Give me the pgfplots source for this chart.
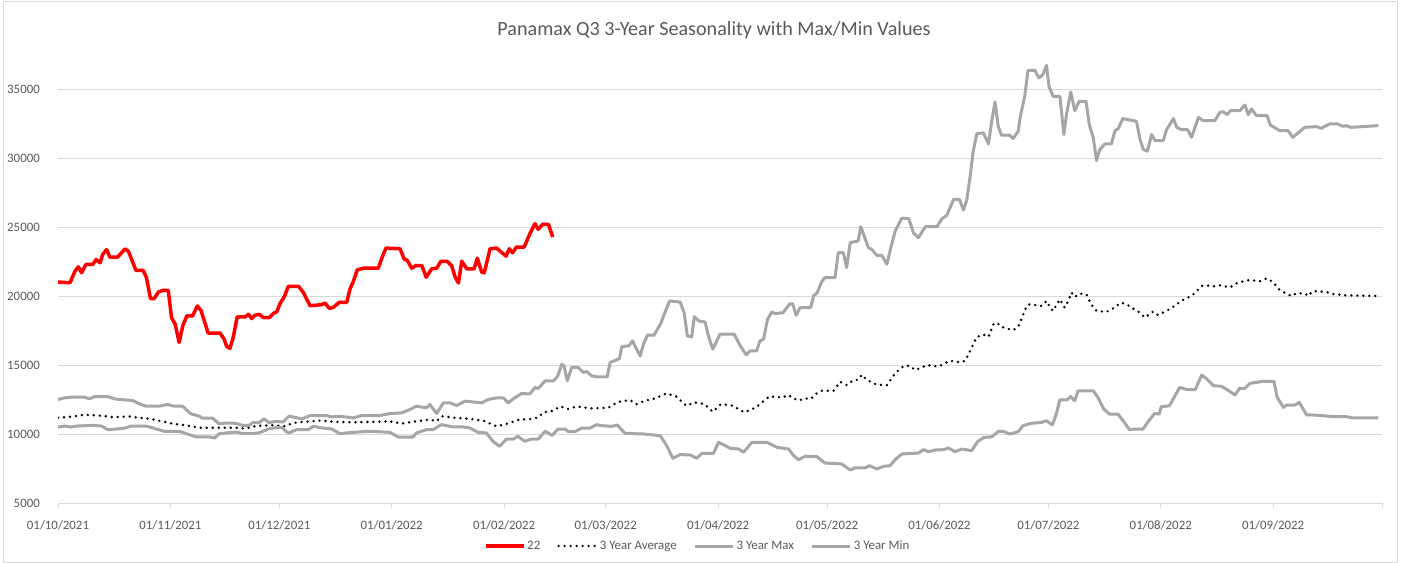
\documentclass[border=0pt]{standalone}
\usepackage{fontspec}
\setmainfont{Carlito}
\usepackage{pgfplots}
\pgfplotsset{compat=1.18}
\definecolor{txt}{HTML}{595959}
\definecolor{gridc}{HTML}{D9D9D9}
\definecolor{grayline}{RGB}{166,166,166}
\definecolor{redline}{HTML}{FF0000}
\begin{document}
\begin{tikzpicture}
\useasboundingbox (0,0) rectangle (1404bp,563bp);
\draw[gridc, line width=0.75bp] (3.5bp,1bp) rectangle (1397.5bp,562bp);
\node[text=txt, font=\fontsize{20.2}{24}\selectfont] at (714bp,533bp) {Panamax Q3 3-Year Seasonality with Max/Min Values};
\begin{axis}[
  at={(58bp,60bp)}, anchor=south west,
  scale only axis, width=1324bp, height=448.5bp,
  xmin=0, xmax=365, ymin=5000, ymax=37500,
  scaled y ticks=false, scaled x ticks=false,
  axis x line*=bottom, axis y line*=left,
  y axis line style={draw=none},
  x axis line style={draw=gridc, line width=0.75bp},
  xtick={0,31,61,92,123,151,182,212,243,273,304,335,365},
  xticklabels={01/10/2021,01/11/2021,01/12/2021,01/01/2022,01/02/2022,01/03/2022,01/04/2022,01/05/2022,01/06/2022,01/07/2022,01/08/2022,01/09/2022,},
  ytick={5000,10000,15000,20000,25000,30000,35000},
  yticklabels={5000,10000,15000,20000,25000,30000,35000},
  tick align=outside, major tick length=5bp,
  xtick style={draw=gridc, line width=0.75bp},
  ytick style={draw=none},
  ymajorgrids, grid style={draw=gridc, line width=0.75bp},
  ticklabel style={text=txt, font=\fontsize{12.9}{15}\selectfont, inner sep=0pt},
  yticklabel style={anchor=east, xshift=-13bp},
  xticklabel style={anchor=north, yshift=-12bp},
  legend columns=4,
  legend style={draw=none, fill=none, at={(0.483,-0.0959)}, anchor=center,
    font=\fontsize{12.9}{15}\selectfont, text=txt,
    /tikz/every even column/.append style={column sep=15bp}},
  legend image code/.code={\draw[#1] (0bp,0bp) -- (38bp,0bp);},
  every axis plot/.append style={line join=round},
]
\addplot[redline, line width=3.5bp] coordinates {
(0,21010) (3.3,20960) (4.7,21800) (5.6,22115) (6.5,21683) (7.7,22284) (9.6,22284) (10.5,22644) (11.6,22404) (12.3,23005) (13.4,23365) (14.3,22812) (16.4,22812) (18.5,23413) (19.4,23245) (21.5,21851) (23.5,21851) (24.4,21322) (25.5,19807) (26.5,19807) (27.7,20288) (28.9,20408) (30.4,20408) (31.3,18437) (32.3,17956) (33.4,16634) (34.4,17836) (35.5,18557) (37.1,18557) (38.4,19278) (39.4,18966) (41.4,17307) (44.7,17307) (45.8,16874) (46.5,16345) (47.4,16201) (48.3,16995) (49.4,18485) (51.6,18485) (52.5,18677) (53.4,18365) (54.3,18605) (55.5,18677) (56.6,18437) (58.3,18437) (59.4,18750) (60.3,18850) (61.3,19500) (62.4,19950) (63.5,20700) (66.3,20704) (67.6,20267) (69.5,19296) (72.7,19369) (73.6,19490) (74.8,19102) (75.9,19175) (77.5,19539) (79.6,19539) (80.5,20510) (81.4,21044) (82.5,21893) (84.2,22015) (88.3,22015) (89.2,22694) (90.4,23471) (94.3,23422) (95.4,22694) (96.3,22573) (97.5,22015) (98.7,22209) (100.3,22209) (101.5,21359) (103,21966) (104.4,22015) (105.5,22500) (107.3,22500) (108.5,22209) (109.5,21359) (110.4,20947) (111.3,22524) (112.7,21966) (114.7,21966) (115.6,22743) (116.8,21723) (117.5,21675) (119.1,23422) (120.9,23471) (123.5,22888) (124.4,23422) (125.3,23131) (126.4,23544) (128.5,23544) (130.3,24636) (131.5,25243) (132.4,24830) (133.6,25194) (135.2,25194) (136.4,24272)
};
\addlegendentry{22}
\addplot[black, line width=2.7bp, line cap=round, dash pattern=on 0bp off 6bp] coordinates {
(0,11177) (4.2,11273) (7.3,11393) (11,11345) (15.1,11225) (19.7,11273) (22.4,11177) (25.2,11105) (28.4,10937) (31.6,10744) (35.3,10624) (38.9,10456) (42.6,10456) (46,10456) (49.8,10456) (51.6,10384) (54.4,10576) (59,10640) (62.5,10559) (64.8,10802) (67.6,10875) (72.2,10972) (76.8,10875) (81.4,10850) (86.9,10875) (91.5,10923) (94.7,10754) (98.8,10923) (102.5,11044) (104.4,10923) (105.7,11287) (109.9,11166) (113.5,11093) (117.2,10972) (120.9,10559) (123.6,10729) (127.3,11044) (130.5,11090) (132.4,11205) (133.8,11566) (136.6,11687) (138.4,12000) (140.7,11807) (143,12000) (146.7,11855) (151.7,11904) (154.5,12337) (157.7,12458) (159.5,12169) (161.8,12410) (164.6,12578) (167.7,12940) (170.4,12723) (173.2,12048) (175.5,12289) (178.2,12169) (180.5,11614) (182.8,12169) (186,12048) (189.2,11566) (192.4,11928) (196.1,12723) (199.8,12651) (201.3,12830) (202.8,12578) (204.3,12430) (206,12578) (207.5,12530) (208.8,12892) (210.6,13134) (213.8,13134) (215.6,13785) (217.4,13544) (219.3,13906) (220.6,13930) (221.6,14292) (222.9,13930) (225.7,13568) (228.5,13544) (229.8,14026) (230.8,14412) (233.2,14942) (234.8,14942) (236.3,14629) (239.5,14990) (242.7,14894) (245.9,15304) (248.6,15200) (250.1,15302) (251,15784) (252.4,16556) (253.3,17038) (255.1,17200) (256.5,17038) (257.9,17954) (258.8,18075) (260.1,17761) (263.2,17520) (264.7,17761) (265.6,18316) (267,19280) (267.9,19401) (271.1,19280) (272.5,19642) (273.4,19208) (274.3,18918) (276.2,19762) (277.5,19160) (278.5,19642) (279.4,20244) (280.3,19931) (281.7,20172) (283.5,20124) (284.9,19353) (286.3,18918) (289,18846) (290.9,19111) (293.1,19521) (294.5,19401) (296.3,19111) (298.2,18798) (299.6,18436) (301.9,18870) (303.2,18629) (305.6,18918) (308.3,19353) (309.3,19600) (311.2,19850) (312.5,20000) (313.9,20362) (315.3,20725) (316.6,20773) (318.5,20700) (320.3,20773) (323.1,20628) (324.9,20918) (326.7,21063) (328.6,21159) (331.3,21063) (333.2,21280) (335,20990) (336.8,20435) (338.5,20193) (340,20000) (341.4,20193) (343.7,20193) (344.6,20000) (346,20362) (349.7,20290) (351.5,20145) (355,20050) (364,20000)
};
\addlegendentry{3 Year Average}
\addplot[grayline, line width=3bp] coordinates {
(0,12500) (1.8,12620) (3.6,12668) (7.3,12668) (8.7,12548) (10.1,12716) (13.7,12716) (15.6,12548) (16.9,12500) (20.6,12427) (22.4,12187) (24.3,12018) (27.9,12018) (30.2,12139) (32,12018) (34.3,12018) (36.6,11465) (38.9,11297) (39.8,11153) (42.6,11153) (44.4,10744) (46.2,10792) (48.1,10792) (49.4,10744) (50.8,10624) (52.7,10624) (53.6,10816) (55.4,10816) (56.8,11105) (58.2,10816) (59.5,10900) (62.1,10880) (63.7,11300) (67.2,11093) (69.5,11336) (74.1,11336) (75.4,11239) (77.7,11287) (81.4,11166) (83.7,11336) (88.7,11336) (91.5,11481) (94.7,11530) (97,11773) (98.8,12015) (101.6,11894) (102.5,12137) (104.4,11481) (106.2,12258) (108,12258) (109.9,12064) (112.2,12380) (116.8,12258) (118.6,12500) (120.9,12622) (122.8,12622) (124.1,12258) (125.5,12549) (127.8,12937) (130.1,12900) (131.5,13373) (132.4,13301) (134.3,13855) (136.6,13855) (137.7,14168) (138.9,15060) (139.5,14940) (140.4,13855) (141.6,14819) (143.4,14819) (144.8,14458) (145.7,14530) (147.1,14217) (148.5,14144) (151.4,14144) (152.2,15181) (153.3,15301) (154.8,15470) (155.4,16337) (157.3,16386) (158.4,16747) (159.5,16145) (160.5,15663) (161.4,16506) (162.5,17157) (164.3,17157) (166.2,18024) (167.1,18675) (168.6,19639) (171.5,19566) (172.6,18795) (173.5,17108) (174.7,17036) (175.4,18506) (176.6,18193) (178.4,18120) (179.3,17108) (180.5,16145) (182.5,17229) (186.4,17229) (188,16434) (189.7,15735) (190.8,16024) (192.6,16024) (193.5,16747) (194.5,16867) (195.6,18313) (196.8,18843) (197.7,18723) (199.9,18795) (201.6,19398) (202.5,19446) (203.5,18608) (204.6,19163) (207.5,19163) (208.3,20007) (209.3,20248) (210.5,21020) (211.4,21334) (214.2,21334) (215.1,23143) (216.5,23143) (217.4,22057) (218.4,23866) (220.6,23987) (221.3,25024) (223.4,23505) (224.3,23384) (225.7,22950) (227.1,22950) (228.5,22299) (229.6,23505) (230.8,24711) (232.6,25627) (234.5,25627) (235.8,24590) (237.2,24228) (239.1,25024) (242.3,25024) (243.7,25603) (245,25844) (246.9,27002) (248.5,27002) (249.6,26230) (250.5,26923) (251.4,28563) (252.3,30491) (253.3,31769) (255.1,31817) (256.5,31022) (257.4,32661) (258.3,34060) (259.2,32299) (260.1,31649) (262.4,31649) (263.3,31408) (264.7,31938) (265.3,33023) (266.5,34470) (267.4,36350) (269.3,36350) (270.4,35796) (271.5,36037) (272.5,36712) (273.2,35193) (274.3,34470) (276.2,34470) (277.3,31697) (278,33143) (279.2,34783) (280.3,33433) (281.5,34108) (283.4,34108) (284.3,32420) (285.4,31456) (286.3,29816) (287.2,30612) (288.6,31022) (290.4,31022) (291.4,31986) (292.3,32131) (293.5,32854) (297.3,32661) (298.3,31335) (299.2,30612) (300.3,30491) (301.5,31697) (302.4,31263) (304.7,31263) (305.6,32058) (307.5,32854) (308.4,32227) (309.7,32058) (311.4,32050) (312.5,31500) (314.4,32947) (315.7,32706) (318.9,32706) (320.3,33309) (321.2,33358) (322.3,33140) (323.2,33430) (325.8,33430) (327.2,33841) (328.1,33140) (329,33551) (330.4,33068) (333.3,33068) (334.2,32392) (336.8,31981) (339.1,31981) (340.4,31498) (343.7,32222) (346.9,32271) (348.2,32150) (350.5,32464) (352.8,32464) (354.2,32295) (355.1,32343) (356.5,32222) (364,32343)
};
\addlegendentry{3 Year Max}
\addplot[grayline, line width=3bp] coordinates {
(0,10504) (1.8,10576) (3.6,10504) (5.1,10576) (9.7,10624) (12,10576) (13.8,10312) (17,10384) (18.4,10432) (20.2,10576) (24.3,10576) (26.2,10432) (29.4,10192) (33.5,10192) (35.4,10023) (38.1,9783) (41.8,9783) (43.2,9711) (44.5,10023) (46.3,10071) (49.1,10143) (50.9,10023) (53.7,10023) (55.5,10095) (58.2,10380) (60.1,10456) (61.9,10456) (62.8,10192) (63.6,10074) (65.8,10316) (69,10316) (70.4,10559) (72.7,10438) (75.4,10365) (77.7,10025) (81.4,10122) (86,10195) (91.5,10122) (93.8,9782) (97.9,9782) (98.8,10074) (101.6,10316) (103.4,10316) (105.7,10680) (108.9,10511) (111.6,10511) (113.5,10438) (115.8,10122) (118.1,10074) (119.9,9467) (121.8,9103) (123.6,9637) (125.5,9637) (126.8,9831) (128.7,9467) (130.5,9637) (132.4,9637) (134.3,10200) (136.2,9900) (137.9,10361) (139.8,10361) (140.7,10169) (142.5,10169) (144.4,10434) (146.7,10434) (148.5,10675) (149.9,10602) (152.6,10554) (154.2,10651) (156.3,10048) (161.4,10000) (166,9880) (167.8,9157) (169.5,8241) (171.5,8506) (174.3,8482) (176.1,8241) (177.5,8602) (180.7,8602) (182.1,9398) (183.4,9229) (185.3,8964) (187.6,8916) (189,8675) (191.3,9398) (195.4,9398) (198.2,9036) (201.4,8916) (202.8,8434) (204.1,8140) (206,8381) (209.2,8357) (211.4,7899) (216,7827) (218.4,7393) (219.7,7537) (222.5,7537) (223.7,7706) (225.7,7465) (227.6,7658) (229.4,7706) (230.8,8140) (232.6,8550) (237.2,8622) (238.6,8864) (240,8719) (241.8,8840) (244.1,8864) (245.5,8984) (247.3,8719) (249.2,8912) (251.9,8791) (253.5,9450) (255.3,9756) (257.4,9790) (259.2,10190) (260.6,10190) (262.4,9997) (264.7,10166) (266,10600) (268.3,10769) (271.1,10841) (272.5,10962) (274.1,10648) (275.2,11443) (276.2,12480) (278.2,12480) (279.1,12721) (280.3,12407) (281.2,13131) (285.4,13131) (286.7,12648) (288.3,11805) (289.9,11443) (292.2,11443) (293.6,10962) (295.4,10311) (296.8,10359) (299.1,10359) (300.4,10841) (302.3,11492) (303.6,11443) (304.1,11974) (306.4,12046) (309.2,13373) (311.4,13213) (313.5,13213) (315.3,14275) (316.7,13986) (318.5,13502) (320.8,13454) (322.7,13140) (324.5,12826) (325.7,13309) (327.2,13309) (328.6,13671) (330.4,13744) (332.3,13816) (335.2,13816) (336.1,12657) (337.8,11932) (338.7,12101) (341,12101) (342.2,12295) (344.2,11377) (346,11377) (348.8,11329) (351.5,11256) (355.2,11256) (357,11160) (364,11160)
};
\addlegendentry{3 Year Min}
\end{axis}
\end{tikzpicture}
\end{document}
